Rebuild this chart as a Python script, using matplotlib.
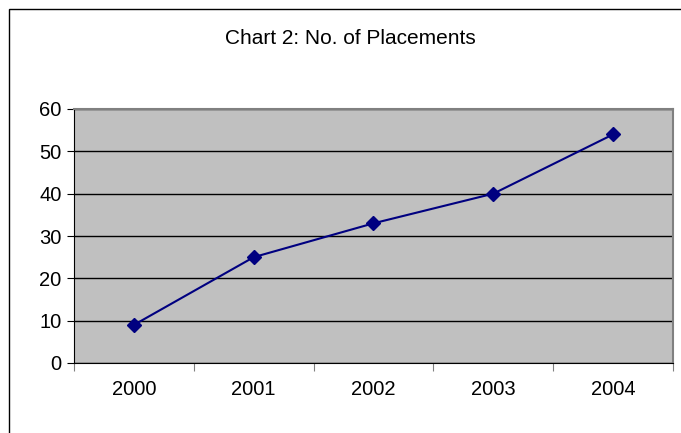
import matplotlib.pyplot as plt
from matplotlib.patches import Rectangle

plt.rcParams['font.family'] = ['Liberation Sans', 'DejaVu Sans']

years = ["2000", "2001", "2002", "2003", "2004"]
placements = [9, 25, 33, 40, 54]

fig = plt.figure(figsize=(6.81, 4.33), dpi=100)
fig.patch.set_facecolor('white')

# chart border (only left and top visible in the original crop)
fig.patches.append(Rectangle((9 / 681, -0.5), 1.5, 1 - 9 / 433 + 0.5,
                             transform=fig.transFigure, fill=False,
                             edgecolor='black', linewidth=1.0))

ax = fig.add_axes([74 / 681, 1 - 363 / 433, 599 / 681, 254 / 433])
ax.set_facecolor('#C0C0C0')

x = [i + 0.5 for i in range(len(years))]
ax.plot(x, placements, color='#000080', linewidth=1.5,
        marker='D', markersize=7, markerfacecolor='#000080',
        markeredgecolor='#000080', zorder=3)

ax.set_xlim(0, len(years))
ax.set_ylim(0, 60)
ax.set_yticks(range(0, 61, 10))
ax.yaxis.grid(True, color='black', linewidth=1.0)
ax.set_axisbelow(True)

ax.set_xticks(range(len(years) + 1))
ax.set_xticklabels([])
ax.set_xticks(x, minor=True)
ax.set_xticklabels(years, minor=True)
ax.tick_params(axis='x', which='minor', length=0, pad=12, labelsize=14.5)
ax.tick_params(axis='x', which='major', length=6, color='#808080', direction='out')
ax.tick_params(axis='y', length=5, direction='out', labelsize=14.5, pad=4)

for side in ['top', 'right']:
    ax.spines[side].set_color('#808080')
    ax.spines[side].set_linewidth(1.5)
ax.spines['left'].set_color('black')
ax.spines['bottom'].set_color('black')

fig.text(350 / 681, 1 - 38 / 433, "Chart 2: No. of Placements",
         ha='center', va='center', fontsize=15)

plt.savefig("out.png", dpi=100, facecolor='white')
